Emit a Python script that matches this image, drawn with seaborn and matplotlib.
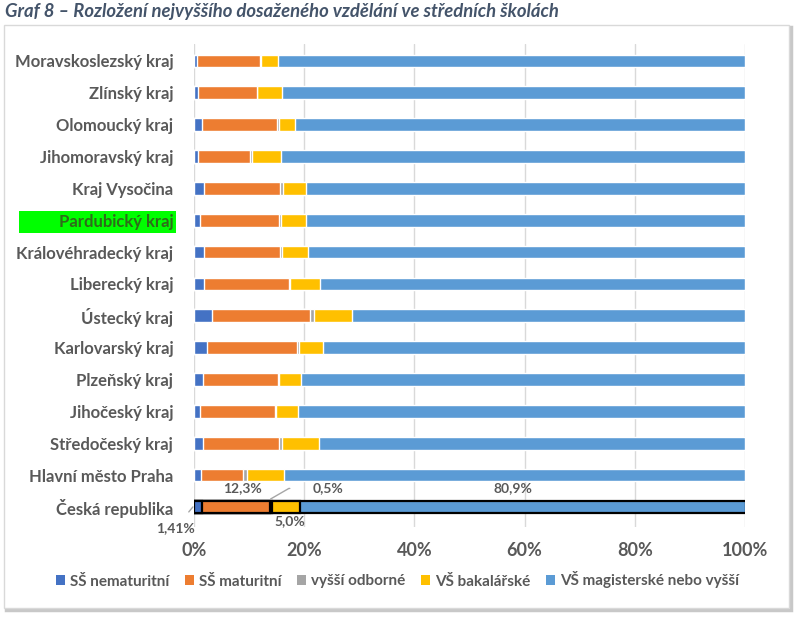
import numpy as np
import pandas as pd
import matplotlib
matplotlib.use("Agg")
import matplotlib.pyplot as plt
from matplotlib.patches import Rectangle, Patch
import seaborn as sns

regions = [
    "Moravskoslezský kraj", "Zlínský kraj", "Olomoucký kraj", "Jihomoravský kraj",
    "Kraj Vysočina", "Pardubický kraj", "Královéhradecký kraj", "Liberecký kraj",
    "Ústecký kraj", "Karlovarský kraj", "Plzeňský kraj", "Jihočeský kraj",
    "Středočeský kraj", "Hlavní město Praha", "Česká republika",
]
ss_nemat = [0.6, 0.8, 1.5, 0.8, 1.9, 1.1, 1.8, 1.9, 3.2, 2.4, 1.7, 1.1, 1.7, 1.3, 1.41]
ss_mat = [11.4, 10.6, 13.6, 9.4, 13.7, 14.4, 13.8, 15.3, 17.9, 16.3, 13.5, 13.6, 13.7, 7.6, 12.3]
vos = [0.1, 0.1, 0.3, 0.3, 0.6, 0.2, 0.4, 0.3, 0.7, 0.4, 0.2, 0.2, 0.6, 0.8, 0.5]
vs_bak = [3.2, 4.5, 3.0, 5.2, 4.2, 4.7, 4.6, 5.4, 6.8, 4.4, 4.1, 4.0, 6.6, 6.7, 5.0]
vs_mag = [84.7, 84.0, 81.6, 84.3, 79.6, 79.6, 79.4, 77.1, 71.4, 76.5, 80.5, 81.1, 77.4, 83.6, 80.9]

series = ["SŠ nematuritní", "SŠ maturitní", "vyšší odborné", "VŠ bakalářské",
          "VŠ magisterské nebo vyšší"]
colors = ["#4472C4", "#ED7D31", "#A5A5A5", "#FFC000", "#5B9BD5"]
highlight = "Pardubický kraj"

sns.set_style("white")
plt.rcParams["font.family"] = ["Lato", "DejaVu Sans"]
txt = "#595959"

df = pd.DataFrame(
    {"region": regions, series[0]: ss_nemat, series[1]: ss_mat,
     series[2]: vos, series[3]: vs_bak, series[4]: vs_mag}
)
cum = df[series].cumsum(axis=1)

W, H = 795, 620
fig = plt.figure(figsize=(W / 100, H / 100), dpi=100)

# chart frame with a soft shadow (behind everything)
fig.patches.append(Rectangle((6 / W, 1 - 610 / H), 785 / W, 583 / H,
                             transform=fig.transFigure, facecolor="none",
                             edgecolor="#C8C8C8", linewidth=2.5, zorder=-2))
fig.patches.append(Rectangle((4 / W, 1 - 608 / H), 785 / W, 583 / H,
                             transform=fig.transFigure, facecolor="white",
                             edgecolor="#D9D9D9", linewidth=1, zorder=-1))

ax = fig.add_axes([194 / W, 1 - 527 / H, 551 / W, 483 / H])
ax.patch.set_alpha(0)

# stacked bars: draw cumulative totals from the widest to the narrowest
for name, col in zip(series[::-1], colors[::-1]):
    sns.barplot(x=cum[name], y=df["region"], orient="h", color=col,
                saturation=1, width=0.4, ax=ax, zorder=3)

# black outline for the Czech Republic bar
n = len(regions)
for p in ax.patches:
    if abs(p.get_y() + p.get_height() / 2 - (n - 1)) < 0.01:
        p.set_edgecolor("black")
        p.set_linewidth(1.6)

ax.set_xlim(0, 100)
ax.set_ylim(n - 1 + 0.63, -0.53)
ax.set_xticks(np.arange(0, 101, 20))
ax.set_xticklabels([f"{v}%" for v in range(0, 101, 20)])
ax.xaxis.grid(True, color="#D9D9D9", linewidth=1, zorder=0)
ax.set_axisbelow(True)
for s in ax.spines.values():
    s.set_visible(False)
ax.set_xlabel("")
ax.set_ylabel("")
ax.tick_params(axis="both", length=0)
ax.tick_params(axis="x", labelsize=13, labelcolor=txt, pad=11)
ax.tick_params(axis="y", labelsize=12, labelcolor=txt, pad=15)
for lab in ax.get_xticklabels():
    lab.set_fontweight("bold")
for lab in ax.get_yticklabels():
    lab.set_fontweight("bold")
    if lab.get_text() == highlight:
        lab.set_color("#2F6B1A")

# green highlight box behind the highlighted region label
fig.canvas.draw()
for lab in ax.get_yticklabels():
    if lab.get_text() == highlight:
        bb = lab.get_window_extent()
        yc = (bb.y0 + bb.y1) / 2
        fig.patches.append(Rectangle(((bb.x1 + 3 - 157) / W, (yc - 11) / H), 157 / W, 22 / H,
                                     transform=fig.transFigure, facecolor="#00FF00",
                                     edgecolor="none", zorder=-0.5))

# data labels for the Czech Republic row
cr = n - 1
c = cum.iloc[cr]
lab_kw = dict(fontsize=10, fontweight="bold", color=txt, ha="center", va="center")
ax.text((c[series[0]] + c[series[1]]) / 2 + 1.3, cr - 0.6, "12,3%", **lab_kw)
ax.text((c[series[2]] + c[series[3]]) / 2 + 0.7, cr + 0.45, "5,0%", **lab_kw)
ax.text((c[series[3]] + 100) / 2 - 1.8, cr - 0.6, "80,9%", **lab_kw)
ax.annotate("0,5%", xy=(c[series[1]] + 0.2, cr - 0.25), xytext=(24.3, cr - 0.58),
            arrowprops=dict(arrowstyle="-", color="#A6A6A6", lw=1,
                            connectionstyle="angle,angleA=0,angleB=30,rad=0",
                            shrinkA=14, shrinkB=0),
            **lab_kw)
ax.annotate("1,41%", xy=(-0.2, cr), xytext=(-3.3, cr + 0.65),
            arrowprops=dict(arrowstyle="-", color="#A6A6A6", lw=1,
                            shrinkA=6, shrinkB=0),
            annotation_clip=False, **lab_kw)

handles = [Patch(facecolor=cl, edgecolor="none") for cl in colors]
fig.legend(handles, series, loc="center", bbox_to_anchor=(0.5, 1 - 580 / H),
           ncol=5, frameon=False, handlelength=0.6, handleheight=0.6,
           handletextpad=0.35, columnspacing=1.0,
           prop=dict(size=11, weight="bold"), labelcolor=txt)

fig.text(5 / W, 1 - 12 / H, "Graf 8 – Rozložení nejvyššího dosaženého vzdělání ve středních školách",
         fontsize=13.3, fontweight="bold", fontstyle="italic", color="#44546A",
         ha="left", va="center")

fig.savefig("out.png", dpi=100)
